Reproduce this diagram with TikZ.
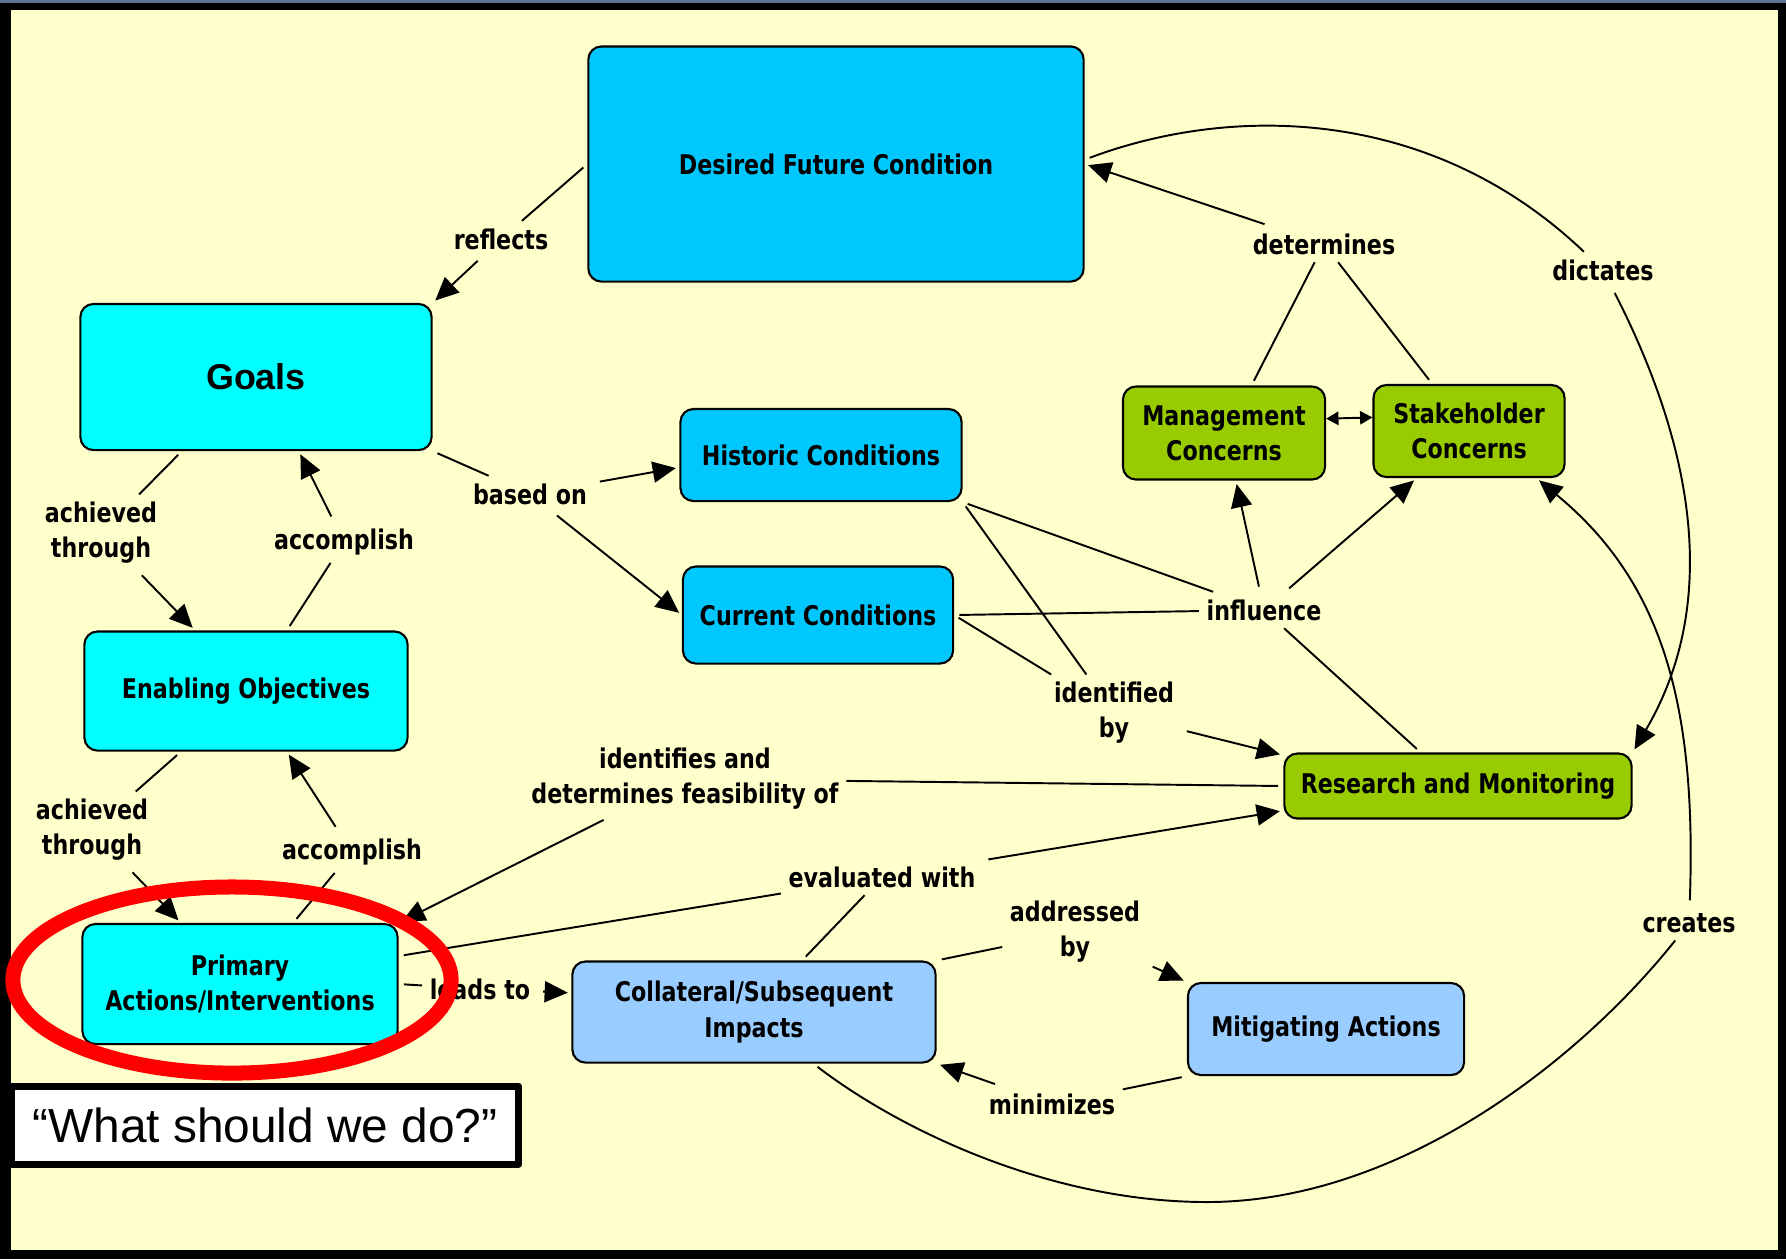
\documentclass[tikz,border=0pt]{standalone}
\usepackage{fontspec}
\setmainfont{DejaVu Sans}[FakeStretch=0.82]
\newfontfamily\arialfont{Liberation Sans}
\usetikzlibrary{arrows.meta}
\definecolor{paper}{RGB}{255,255,204}
\definecolor{slate}{RGB}{90,115,145}
\definecolor{skyblue}{RGB}{0,200,255}
\definecolor{aqua}{RGB}{0,255,255}
\definecolor{leaf}{RGB}{153,204,0}
\definecolor{paleblue}{RGB}{153,204,255}
\definecolor{ringred}{RGB}{255,0,0}

\begin{document}
\begin{tikzpicture}[x=0.01cm, y=-0.01cm, font=\fontsize{7.7pt}{10pt}\selectfont\bfseries,
    line join=round, >={Triangle[length=6.6pt,width=6pt]},
    concept/.style={draw, line width=0.6pt, rounded corners=0.13cm, align=center, inner sep=1pt},
    link/.style={align=center, inner sep=2pt},
    wire/.style={line width=0.55pt, shorten <=1.5pt},
    arrowwire/.style={wire, ->, shorten >=1pt}]
	\useasboundingbox (0,0) rectangle (1786,1259);
	\fill (0,0) rectangle (1786,1259);
	\fill[slate] (0,0) rectangle (1786,3);
	\fill[paper] (11,10) rectangle (1778,1250);

	\node[concept, fill=skyblue, minimum width=4.95cm, minimum height=2.35cm] (dfc) at (836,164) {Desired Future Condition};
	\node[concept, fill=aqua, minimum width=3.51cm, minimum height=1.46cm,
	  font=\arialfont\fontsize{10.2pt}{12pt}\selectfont\bfseries] (goals) at (256,377) {Goals};
	\node[concept, fill=skyblue, minimum width=2.81cm, minimum height=0.92cm] (hist) at (821,455) {Historic Conditions};
	\node[concept, fill=skyblue, minimum width=2.70cm, minimum height=0.97cm] (cur) at (818,615) {Current Conditions};
	\node[concept, fill=aqua, minimum width=3.23cm, minimum height=1.19cm] (enab) at (246,691) {Enabling Objectives};
	\node[concept, fill=aqua, minimum width=3.15cm, minimum height=1.20cm] (prim) at (240,984) {Primary\\Actions/Interventions};
	\node[concept, fill=paleblue, minimum width=3.63cm, minimum height=1.01cm] (col) at (754,1012) {Collateral/Subsequent\\Impacts};
	\node[concept, fill=paleblue, minimum width=2.76cm, minimum height=0.92cm] (mit) at (1326,1029) {Mitigating Actions};
	\node[concept, fill=leaf, minimum width=3.47cm, minimum height=0.65cm] (rm) at (1458,786) {Research and Monitoring};
	\node[concept, fill=leaf, minimum width=2.02cm, minimum height=0.93cm] (mgmt) at (1224,433) {Management\\Concerns};
	\node[concept, fill=leaf, minimum width=1.91cm, minimum height=0.92cm] (stake) at (1469,431) {Stakeholder\\Concerns};

	\node[link] (reflects) at (501,239) {reflects};
	\node[link] (determines) at (1324,244) {determines};
	\node[link] (dictates) at (1603,270) {dictates};
	\node[link] (basedon) at (530,494) {based on};
	\node[link] (ach1) at (101,533) {achieved\\through};
	\node[link] (acc1) at (344,542) {accomplish};
	\node[link] (influence) at (1264,610) {influence};
	\node[link] (identby) at (1114,713) {identified\\by};
	\node[link] (identfeas) at (685,779) {identifies and\\determines feasibility of};
	\node[link] (ach2) at (92,830) {achieved\\through};
	\node[link] (acc2) at (352,852) {accomplish};
	\node[link] (evalwith) at (882,877) {evaluated with};
	\node[link] (addrby) at (1075,932) {addressed\\by};
	\node[link] (creates) at (1689,923) {creates};
	\node[link] (leadsto) at (480,989) {leads to};
	\node[link] (minimizes) at (1052,1104) {minimizes};

	\draw[wire] (dfc.west) -- (reflects);
	\draw[arrowwire] (reflects) -- (goals.north east);
	\draw[wire] (mgmt.60) -- (determines);
	\draw[wire] (stake.128) -- (determines);
	\draw[arrowwire] (determines) -- (dfc.east);
	\draw[wire] (dfc.1) .. controls (1230,105) and (1430,105) .. (dictates);
	\draw[arrowwire] (dictates) .. controls (1700,460) and (1716,610) .. (rm.north east);
	\draw[wire] (goals.south east) -- (basedon);
	\draw[arrowwire] (basedon) -- (hist.185);
	\draw[arrowwire] (basedon) -- (cur.west);
	\draw[wire] (goals.225) -- (ach1);
	\draw[arrowwire] (ach1) -- (enab.130);
	\draw[wire] (enab.56) -- (acc1);
	\draw[arrowwire] (acc1) -- (goals.300);
	\draw[wire] (enab.223) -- (ach2);
	\draw[arrowwire] (ach2) -- (prim.134);
	\draw[wire] (prim.49) -- (acc2);
	\draw[arrowwire] (acc2) -- (enab.304);
	\draw[wire] (hist.south east) -- (influence);
	\draw[wire] (cur.east) -- (influence);
	\draw[wire] (rm.138) -- (influence);
	\draw[arrowwire] (influence) -- (mgmt.284);
	\draw[arrowwire] (influence) -- (stake.222);
	\draw[wire] (hist.south east) -- (identby);
	\draw[wire] (cur.east) -- (identby);
	\draw[arrowwire] (identby) -- (rm.170);
	\draw[wire] (rm.west) -- (identfeas);
	\draw[arrowwire] (identfeas) -- (prim.north east);
	\draw[wire] (prim.10) -- (evalwith);
	\draw[wire] (col.47) -- (evalwith);
	\draw[arrowwire] (evalwith) -- (rm.188);
	\draw[wire] (prim.east) -- (leadsto);
	\draw[arrowwire] (leadsto) -- (col.174);
	\draw[wire] (col.north east) -- (addrby);
	\draw[arrowwire] (addrby) -- (mit.north west);
	\draw[wire] (mit.south west) -- (minimizes);
	\draw[arrowwire] (minimizes) -- (col.south east);
	\draw[wire] (col.319) .. controls (900,1130) and (1050,1202) .. (1207,1202)
	  .. controls (1400,1202) and (1580,1060) .. (creates);
	\draw[arrowwire] (creates) .. controls (1697,700) and (1660,580) .. (stake.-35);
	\draw[line width=0.55pt, {Triangle[length=3.5pt,width=3.8pt]}-{Triangle[length=3.5pt,width=3.8pt]}] (mgmt.8) -- (stake.172);

	\node[draw, line width=2pt, fill=white, minimum width=5.07cm, minimum height=0.78cm,
	  font=\arialfont\mdseries\fontsize{13.6pt}{16pt}\selectfont] (question) at (265,1125) {“What should we do?”};
	\draw[ringred, line width=0.15cm] (232,980) ellipse [x radius=2.19cm, y radius=0.93cm];
\end{tikzpicture}
\end{document}
